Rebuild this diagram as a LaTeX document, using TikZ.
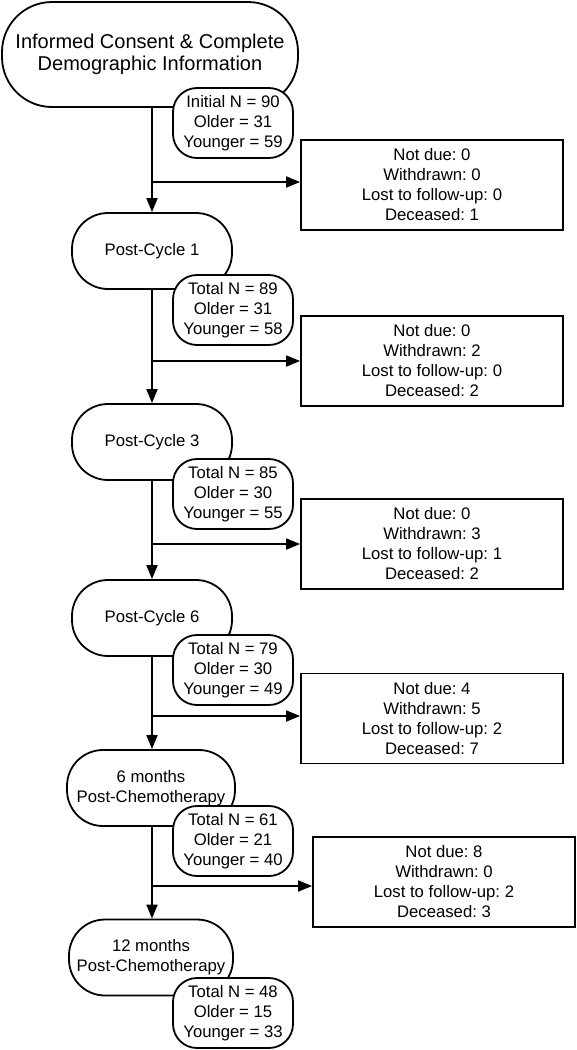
\documentclass[tikz,border=0pt]{standalone}
\usepackage{fontspec}
\setmainfont{Liberation Sans}
\frenchspacing
\usetikzlibrary{arrows.meta}
\tikzset{
	stage/.style={draw, line width=1.8pt, fill=white, align=center, rounded corners=36pt, minimum width=160pt, minimum height=76pt, inner sep=0pt, font=\fontsize{16.7}{20}\selectfont},
	count/.style={draw, line width=1.8pt, fill=white, align=center, rounded corners=24pt, minimum width=120pt, minimum height=70pt, inner sep=0pt, font=\fontsize{16.7}{20}\selectfont},
	lossbox/.style={draw, line width=1.8pt, fill=white, align=center, minimum width=262pt, minimum height=90pt, inner sep=0pt, font=\fontsize{16.7}{20}\selectfont},
	arr/.style={line width=1.8pt, -{Triangle[length=14pt,width=11pt]}}
}

\begin{document}
\begin{tikzpicture}[x=1pt, y=-1pt]
			%%%%% START %%%%%
			\useasboundingbox (0,0) rectangle (577,1050);
			
			\node[stage, minimum width=296pt, minimum height=105pt, rounded corners=50pt, font=\fontsize{20}{22.5}\selectfont] (consent) at (150,54.5) {Informed Consent \& Complete\\Demographic Information};
			\node[count] (n0) at (233,123) {Initial N = 90\\Older = 31\\Younger = 59};
			
			\node[stage] (pc1) at (152,251) {Post-Cycle 1};
			\node[count] (n1) at (233,310) {Total N = 89\\Older = 31\\Younger = 58};
			
			\node[stage] (pc3) at (152,442) {Post-Cycle 3};
			\node[count] (n3) at (233,494) {Total N = 85\\Older = 30\\Younger = 55};
			
			\node[stage] (pc6) at (152,618) {Post-Cycle 6};
			\node[count] (n6) at (233,670) {Total N = 79\\Older = 30\\Younger = 49};
			
			\node[stage, minimum width=168pt] (m6) at (151,788) {6 months\\Post-Chemotherapy};
			\node[count] (nm6) at (233,841) {Total N = 61\\Older = 21\\Younger = 40};
			
			\node[stage, minimum width=164pt] (m12) at (151,957.5) {12 months\\Post-Chemotherapy};
			\node[count] (nm12) at (233,1013) {Total N = 48\\Older = 15\\Younger = 33};
			
			% losses at each step
			\node[lossbox] (loss1) at (432,185) {Not due: 0\\Withdrawn: 0\\Lost to follow-up: 0\\Deceased: 1};
			\node[lossbox] (loss3) at (432,361) {Not due: 0\\Withdrawn: 2\\Lost to follow-up: 0\\Deceased: 2};
			\node[lossbox] (loss6) at (432,544) {Not due: 0\\Withdrawn: 3\\Lost to follow-up: 1\\Deceased: 2};
			\node[lossbox] (lossm6) at (432,718.5) {Not due: 4\\Withdrawn: 5\\Lost to follow-up: 2\\Deceased: 7};
			\node[lossbox] (lossm12) at (444,882) {Not due: 8\\Withdrawn: 0\\Lost to follow-up: 2\\Deceased: 3};
			
			\coordinate (j1) at (152,182);
			\coordinate (j3) at (152,361);
			\coordinate (j6) at (152,544);
			\coordinate (jm6) at (152,716);
			\coordinate (jm12) at (152,886);
			
			\draw[arr] (consent.south -| pc1) -- (pc1.north);
			\draw[arr] (pc1.south) -- (pc3.north);
			\draw[arr] (pc3.south) -- (pc6.north);
			\draw[arr] (pc6.south -| j6) -- (m6.north -| j6);
			\draw[arr] (m6.south -| j6) -- (m12.north -| j6);
			
			\draw[arr] (j1) -- (loss1.west |- j1);
			\draw[arr] (j3) -- (loss3.west |- j3);
			\draw[arr] (j6) -- (loss6.west |- j6);
			\draw[arr] (jm6) -- (lossm6.west |- jm6);
			\draw[arr] (jm12) -- (lossm12.west |- jm12);
			
			%%%%% END %%%%%
\end{tikzpicture}
\end{document}
